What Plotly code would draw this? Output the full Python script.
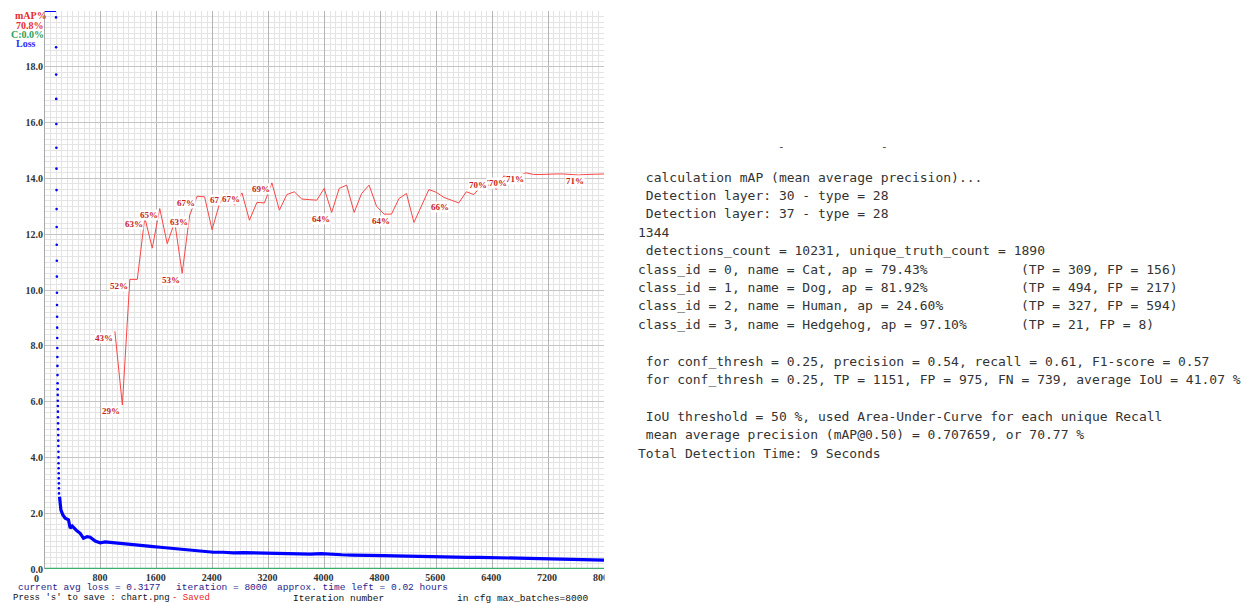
import plotly.graph_objects as go

# ---------------- data ----------------
# avg loss above the chart top (drawn clipped at the 20.0 edge)
clip_iter = [0, 157]
clip_loss = [20.0, 20.0]

# first iterations: single dots of the fast-falling avg loss
dot_iter = [158, 159, 160, 161, 162, 163, 164, 165, 166, 167, 168, 169, 170, 171, 172,
            173, 174, 175, 176, 177, 178, 179, 180, 181, 182, 183, 184, 185, 186, 187,
            188, 189, 190, 191, 192, 193, 194, 195, 196, 197, 198, 199, 200]
dot_loss = [19.77, 18.70, 17.72, 16.85, 15.95, 15.10, 14.35, 13.58, 12.90, 12.26,
            11.62, 11.05, 10.48, 9.90, 9.46, 9.04, 8.65, 8.28, 7.92, 7.60, 7.28, 6.95,
            6.66, 6.44, 6.24, 6.03, 5.84, 5.64, 5.44, 5.22, 5.01, 4.80, 4.60, 4.41, 4.20,
            4.00, 3.79, 3.61, 3.43, 3.25, 3.07, 2.89, 2.71]

# avg loss afterwards
loss_iter = [208, 228, 256, 289, 336, 361, 390, 432, 461, 504, 551, 604, 647, 718, 790,
             860, 933, 1020, 1123, 1200, 1267, 1360, 1458, 1550, 1649, 1740, 1839, 1940,
             2031, 2120, 2221, 2310, 2411, 2550, 2698, 2840, 2984, 3130, 3270, 3400, 3509,
             3650, 3800, 3950, 4100, 4250, 4400, 4550, 4700, 4850, 5000, 5150, 5300, 5450,
             5600, 5750, 5900, 6050, 6200, 6350, 6500, 6650, 6800, 6950, 7100, 7250, 7400,
             7550, 7700, 7850, 8000]
loss_val = [2.59, 2.11, 1.94, 1.82, 1.76, 1.46, 1.54, 1.42, 1.36, 1.28, 1.10, 1.16, 1.14,
            1.00, 0.94, 0.97, 0.95, 0.93, 0.92, 0.88, 0.86, 0.84, 0.80, 0.80, 0.78, 0.76,
            0.74, 0.72, 0.68, 0.68, 0.66, 0.63, 0.60, 0.60, 0.58, 0.59, 0.58, 0.56, 0.55,
            0.55, 0.54, 0.53, 0.53, 0.55, 0.52, 0.51, 0.50, 0.50, 0.48, 0.48, 0.47, 0.46,
            0.46, 0.45, 0.44, 0.44, 0.43, 0.42, 0.42, 0.41, 0.40, 0.40, 0.38, 0.37, 0.37,
            0.36, 0.35, 0.35, 0.34, 0.33, 0.32]

# mAP (%) measured during training
map_iter = [1000, 1107, 1214, 1321, 1428, 1535, 1642, 1749, 1856, 1963, 2070, 2177, 2284,
            2391, 2498, 2605, 2712, 2819, 2926, 3033, 3140, 3247, 3354, 3461, 3568, 3675,
            3782, 3889, 3996, 4103, 4210, 4317, 4424, 4531, 4638, 4745, 4852, 4959, 5066,
            5173, 5280, 5387, 5494, 5601, 5708, 5815, 5922, 6029, 6136, 6243, 6350, 6457,
            6564, 6671, 6778, 6885, 6992, 7099, 7206, 7313, 7420, 7527, 7634, 7741, 7848,
            7955, 8000]
map_val = [42.6, 29.4, 51.9, 51.9, 63.0, 57.5, 64.6, 58.3, 62.2, 53.0, 63.4, 66.8, 66.7,
           60.8, 65.5, 67.3, 65.2, 67.4, 62.5, 65.7, 65.6, 69.2, 64.3, 67.1, 67.6, 66.3,
           66.2, 66.1, 68.2, 63.9, 68.2, 68.8, 63.9, 67.3, 68.8, 65.0, 63.6, 63.6, 66.4,
           67.3, 62.1, 65.2, 68.0, 67.5, 66.6, 66.1, 65.6, 67.6, 67.1, 68.6, 70.0, 68.0,
           70.4, 70.3, 70.5, 71.0, 70.7, 70.7, 70.8, 70.8, 70.8, 70.7, 70.6, 70.7, 70.7,
           70.8, 70.8]

# mAP labels written on the chart (as visible: two are partly overwritten by the next one)
label_iter = [1000, 1107, 1214, 1428, 1642, 1963, 2070, 2177, 2605, 2819, 3247, 4103,
              4959, 5815, 6350, 6564, 6671, 6885, 7741]
label_text = ["43%", "29%", "52%", "63%", "65%", "53%", "63%", "67%", "67", "67%", "69%",
              "64%", "64%", "66%", "70%", "7", "70%", "71%", "71%"]

# contrastive accuracy (C) line
c_iter = [0, 8000]
c_val = [0.0, 0.0]

# axis ticks
x_tickvals = [800, 1600, 2400, 3200, 4000, 4800, 5600, 6400, 7200, 8000]
x_ticktext = ["800", "1600", "2400", "3200", "4000", "4800", "5600", "6400", "7200", "8000"]
y_tickvals = [0, 2, 4, 6, 8, 10, 12, 14, 16, 18, 20]
y_ticktext = ["0.0", "2.0", "4.0", "6.0", "8.0", "10.0", "12.0", "14.0", "16.0", "18.0", ""]

# console output panel
panel_lines = [
    " calculation mAP (mean average precision)...",
    " Detection layer: 30 - type = 28",
    " Detection layer: 37 - type = 28",
    "1344",
    " detections_count = 10231, unique_truth_count = 1890",
    "class_id = 0, name = Cat, ap = 79.43%",
    "class_id = 1, name = Dog, ap = 81.92%",
    "class_id = 2, name = Human, ap = 24.60%",
    "class_id = 3, name = Hedgehog, ap = 97.10%",
    "",
    " for conf_thresh = 0.25, precision = 0.54, recall = 0.61, F1-score = 0.57",
    " for conf_thresh = 0.25, TP = 1151, FP = 975, FN = 739, average IoU = 41.07 %",
    "",
    " IoU threshold = 50 %, used Area-Under-Curve for each unique Recall",
    " mean average precision (mAP@0.50) = 0.707659, or 70.77 %",
    "Total Detection Time: 9 Seconds",
]
panel_tp = {5: "(TP = 309, FP = 156)", 6: "(TP = 494, FP = 217)",
            7: "(TP = 327, FP = 594)", 8: "(TP = 21, FP = 8)"}

# ---------------- geometry helpers ----------------
W, H = 1252, 603
L, R, T, B = 45, 648, 11, 34
PW = W - L - R
PH = H - T - B


def px(xp):
    return (xp - L) / PW


def py(yp):
    return (H - B - yp) / PH


fig = go.Figure()

fig.add_trace(go.Scatter(x=clip_iter, y=clip_loss, mode="lines",
                         line=dict(color="#0000ff", width=2), cliponaxis=False,
                         hoverinfo="skip"))
fig.add_trace(go.Scatter(x=dot_iter, y=dot_loss, mode="markers",
                         marker=dict(color="#0000ff", size=2.6, line=dict(width=0)),
                         hoverinfo="skip"))
fig.add_trace(go.Scatter(x=loss_iter, y=loss_val, mode="lines",
                         line=dict(color="#0000ff", width=3.2), hoverinfo="skip"))
fig.add_trace(go.Scatter(x=c_iter, y=c_val, yaxis="y2", mode="lines",
                         line=dict(color="rgb(60,175,110)", width=2.5), cliponaxis=False,
                         hoverinfo="skip"))
fig.add_trace(go.Scatter(x=map_iter, y=map_val, yaxis="y2", mode="lines",
                         line=dict(color="rgb(250,70,70)", width=1), hoverinfo="skip"))

annotations = []

# mAP labels: text ends just left of the point, slightly below it
lab_font = dict(family="Liberation Serif", size=9, color="rgb(200,30,30)", weight="bold")
for it, txt in zip(label_iter, label_text):
    v = map_val[map_iter.index(it)]
    if txt.endswith("%"):
        anchor, xs = "right", (-3.5 if it == 6671 else -1)
    else:  # partially overwritten label: keep its original left edge
        anchor, xs = "left", -18
    annotations.append(dict(x=it, y=v, xref="x", yref="y2", text=txt,
                            showarrow=False, xanchor=anchor, yanchor="middle",
                            xshift=xs, yshift=-6.5, bgcolor="white", borderpad=0,
                            font=lab_font))

# x label "0"
annotations.append(dict(x=px(36), y=py(578), xref="paper", yref="paper", text="0",
                        showarrow=False, xanchor="center", yanchor="middle", borderpad=0,
                        font=dict(family="Liberation Serif", size=10, color="#333333",
                                  weight="bold")))

# legend texts at top-left
leg = [("mAP%", 14, 15.5, "rgb(230,45,45)"), ("70.8%", 15, 25, "rgb(230,45,45)"),
       ("C:0.0%", 10, 34.5, "rgb(40,160,90)"), ("Loss", 15, 44, "rgb(45,45,255)")]
for t, xl, yc, col in leg:
    annotations.append(dict(x=px(xl), y=py(yc), xref="paper", yref="paper",
                            text=t, showarrow=False, xanchor="left",
                            yanchor="middle", borderpad=0,
                            font=dict(family="Liberation Serif", size=10, color=col,
                                      weight="bold")))

# bottom info texts
bot_font = "Liberation Mono"
bottom = [("current avg loss = 0.3177", 17, 587, "rgb(30,30,140)", 9.5),
          ("iteration = 8000", 175, 587, "rgb(30,30,140)", 9.5),
          ("approx. time left = 0.02 hours", 276, 587, "rgb(30,30,140)", 9.5),
          ("Press 's' to save : chart.png", 12, 598, "#111111", 9),
          ("- Saved", 171, 598, "rgb(230,30,30)", 9),
          ("Iteration number", 292, 598, "#111111", 9.5),
          ("in cfg max_batches=8000", 456, 598, "#111111", 9.5)]
for t, xl, yc, col, fs in bottom:
    annotations.append(dict(x=px(xl), y=py(yc), xref="paper", yref="paper", text=t,
                            showarrow=False, xanchor="left", yanchor="middle", borderpad=0,
                            font=dict(family=bot_font, size=fs, color=col)))

# console panel
pfont = dict(family="DejaVu Sans Mono", size=13, color="#333333")
for i, line in enumerate(panel_lines):
    yc = 177 + 18.4 * i
    if line:
        annotations.append(dict(x=px(637), y=py(yc), xref="paper", yref="paper",
                                text=line.replace(" ", "\u00a0"), showarrow=False,
                                xanchor="left", yanchor="middle", borderpad=0, font=pfont))
    if i in panel_tp:
        annotations.append(dict(x=px(1020), y=py(yc), xref="paper", yref="paper",
                                text=panel_tp[i].replace(" ", "\u00a0"), showarrow=False,
                                xanchor="left", yanchor="middle", borderpad=0, font=pfont))
for xd in (781, 884):
    annotations.append(dict(x=px(xd), y=py(146), xref="paper", yref="paper", text="-",
                            showarrow=False, xanchor="center", yanchor="middle",
                            borderpad=0, font=dict(family="DejaVu Sans Mono", size=11,
                                                   color="#444444")))

tick_font = dict(family="Liberation Serif", size=10, color="#333333", weight="bold")

fig.update_layout(
    width=W, height=H,
    margin=dict(l=L, r=R, t=T, b=B, pad=0, autoexpand=False),
    paper_bgcolor="white", plot_bgcolor="white",
    showlegend=False,
    annotations=annotations,
    shapes=[dict(type="rect", xref="paper", yref="paper", layer="above",
                 x0=px(604.5), x1=px(634), y0=py(584), y1=py(570),
                 fillcolor="white", line=dict(width=0))],
    xaxis=dict(range=[0, 8000], tickmode="array", tickvals=x_tickvals,
               ticktext=x_ticktext, ticks="", automargin=False,
               showline=False, zeroline=False,
               showgrid=True, gridcolor="#b4b4b4", gridwidth=1,
               minor=dict(dtick=80, tick0=0, showgrid=True, gridcolor="#e4e4e4",
                          gridwidth=1),
               tickfont=tick_font, ticklabelstandoff=1, ticklabelshift=-1,
               fixedrange=True),
    yaxis=dict(range=[0, 20], tickmode="array", tickvals=y_tickvals,
               ticktext=y_ticktext, ticks="", automargin=False,
               showline=True, linecolor="#a8a8a8",
               linewidth=1, zeroline=False, showgrid=True, gridcolor="#c4c4c4",
               gridwidth=1.3,
               minor=dict(dtick=0.2, tick0=0, showgrid=True, gridcolor="#e4e4e4",
                          gridwidth=1),
               tickfont=tick_font, ticklabelstandoff=-1, fixedrange=True),
    yaxis2=dict(range=[0, 100], overlaying="y", visible=False, fixedrange=True),
)

fig.write_html("out.html")
